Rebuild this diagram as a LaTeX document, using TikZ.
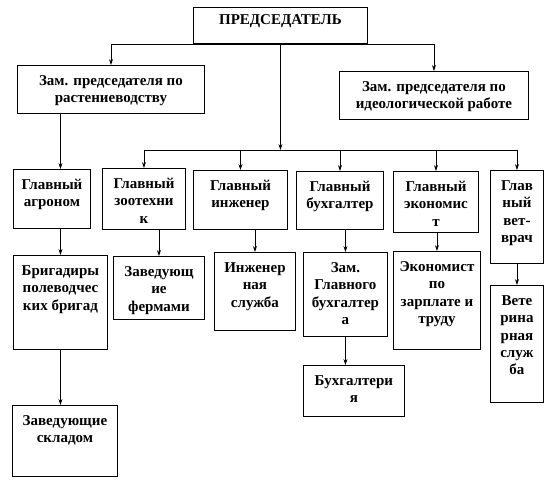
\documentclass[tikz,border=0pt]{standalone}
\usepackage{fontspec}
\setmainfont{Liberation Serif}
\usetikzlibrary{arrows.meta}
\newcommand{\boxtext}[4][8pt]{\parbox[c][#3][t]{#2}{\centering\vspace*{#1}\strut#4}}
\tikzset{
  unit/.style={draw, line width=0.9pt, inner sep=0pt, anchor=north west,
    font=\fontsize{15}{17.3}\selectfont\bfseries},
  link/.style={line width=0.7pt, -{Stealth[length=6pt,width=4pt]}},
}

\begin{document}
\begin{tikzpicture}[x=1pt,y=-1pt]
\useasboundingbox (0,0) rectangle (553,488);
\node[unit] (pred) at (193,7) {\boxtext[5pt]{174pt}{36pt}{ПРЕДСЕДАТЕЛЬ}};
\node[unit] (zam1) at (17,65) {\boxtext{187pt}{48pt}{Зам. председателя по\\ растениеводству}};
\node[unit] (zam2) at (339,71) {\boxtext{189pt}{48pt}{Зам. председателя по\\ идеологической работе}};
\node[unit] (agr) at (13,169) {\boxtext{77pt}{59pt}{Главный\\ агроном}};
\node[unit] (zoo) at (102,168) {\boxtext{83pt}{61pt}{Главный\\ зоотехни\\ к}};
\node[unit] (ing) at (193,170) {\boxtext{94pt}{59pt}{Главный\\ инженер}};
\node[unit] (buh) at (296,171) {\boxtext{87pt}{58pt}{Главный\\ бухгалтер}};
\node[unit] (econ) at (393,171) {\boxtext{85pt}{61pt}{Главный\\ экономис\\ т}};
\node[unit] (vet) at (490,170) {\boxtext{53pt}{93pt}{Глав\\ ный\\ вет-\\ врач}};
\node[unit] (brig) at (13,255) {\boxtext{94pt}{94pt}{Бригадиры\\ полеводчес\\ ких бригад}};
\node[unit] (ferm) at (113,256) {\boxtext{91pt}{63pt}{Заведующ\\ ие\\ фермами}};
\node[unit] (ingsl) at (214,252) {\boxtext{81pt}{78pt}{Инженер\\ ная\\ служба}};
\node[unit] (zambuh) at (303,252) {\boxtext{84pt}{84pt}{Зам.\\ Главного\\ бухгалтер\\ а}};
\node[unit] (econtr) at (393,251) {\boxtext{87pt}{98pt}{Экономист\\ по\\ зарплате и\\ труду}};
\node[unit] (vetsl) at (490,285) {\boxtext{53pt}{117pt}{Вете\\ рина\\ рная\\ служ\\ ба}};
\node[unit] (sklad) at (12,405) {\boxtext{105pt}{71pt}{Заведующие\\ складом}};
\node[unit] (buhg) at (303,365) {\boxtext{101pt}{51pt}{Бухгалтери\\ я}};
\coordinate (bus) at (0,150);
\draw[link] (pred.south) -| (zam1.north);
\draw[link] (pred.south) -| (zam2.north);
\draw[link] (pred.south) -- (pred.south |- bus);
\draw[line width=0.7pt] (zoo.north |- bus) -- (vet.north |- bus);
\foreach \n in {zoo,ing,buh,econ,vet}
  \draw[link] (\n.north |- bus) -- (\n.north);
\draw[link] (zam1.south -| brig.north) -- (agr.north -| brig.north);
\draw[link] (agr.south -| brig.north) -- (brig.north);
\draw[link] (brig.south) -- (sklad.north -| brig.south);
\draw[link] (zoo.south -| ferm.north) -- (ferm.north);
\draw[link] (ing.south -| ingsl.north) -- (ingsl.north);
\draw[link] (buh.south -| zambuh.north) -- (zambuh.north);
\draw[link] (econ.south -| econtr.north) -- (econtr.north);
\draw[link] (vet.south -| vetsl.north) -- (vetsl.north);
\draw[link] (zambuh.south) -- (buhg.north -| zambuh.south);
\end{tikzpicture}
\end{document}
